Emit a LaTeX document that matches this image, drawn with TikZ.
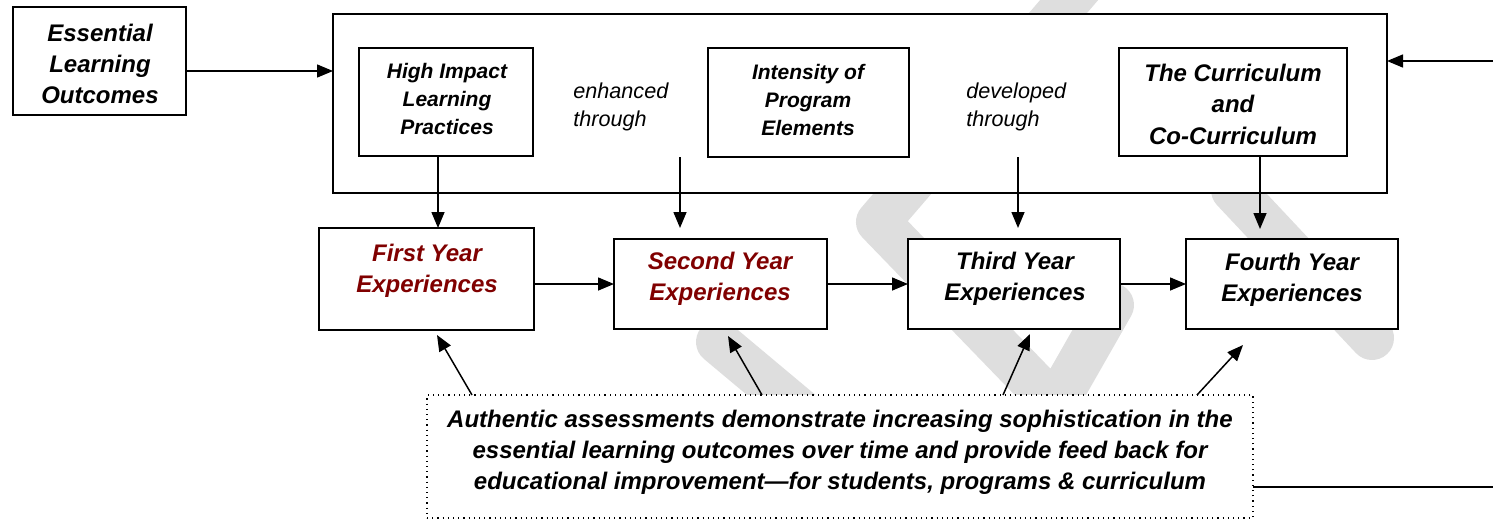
\documentclass[tikz,border=0pt]{standalone}
\usepackage{fontspec}
\setmainfont{Liberation Sans}
\usetikzlibrary{arrows.meta,calc}
\definecolor{darkred}{RGB}{128,0,0}
\definecolor{wmgray}{RGB}{222,222,222}
\begin{document}
\begin{tikzpicture}[x=0.5pt,y=-0.5pt,
  wm/.style={draw=wmgray, line width=22pt, line cap=round, line join=round},
  box/.style={draw, line width=1pt, fill=white, inner sep=0pt, outer sep=0pt},
  dotbox/.style={draw, line width=0.6pt, dotted, fill=white, inner sep=0pt, outer sep=0pt},
  lbl/.style={align=center, inner sep=0pt, font=\fontsize{12pt}{15.5pt}\selectfont\bfseries\itshape},
  smlbl/.style={align=center, inner sep=0pt, font=\fontsize{10.5pt}{14pt}\selectfont\bfseries\itshape},
  note/.style={align=left, inner sep=0pt, anchor=west, font=\fontsize{10.8pt}{14pt}\selectfont\itshape},
  arr/.style={-{Triangle[length=8pt,width=6.5pt]}, line width=0.75pt},
  plain/.style={line width=0.75pt}]
\useasboundingbox (0,0) rectangle (1493,520);
% watermark
\draw[wm] (1095,-30) -- (878,222) -- (1055,405) -- (1112,305);
\draw[wm] (1233,190) -- (1372,338);
\draw[wm] (718,342) -- (835,440);
% boxes
\node[box, minimum width=86.5pt, minimum height=54pt] (elo) at (99.5,61) {};
\node[box, minimum width=527pt, minimum height=89.5pt] (big) at (860,103.5) {};
\node[box, minimum width=87pt, minimum height=54pt] (hilp) at (446,102) {};
\node[box, minimum width=100.5pt, minimum height=54.5pt] (inten) at (808.5,102.5) {};
\node[box, minimum width=114pt, minimum height=54pt] (curr) at (1233,102) {};
\node[box, minimum width=107.5pt, minimum height=51pt] (first) at (426.5,279) {};
\node[box, minimum width=106.5pt, minimum height=45pt] (second) at (720.5,284) {};
\node[box, minimum width=106pt, minimum height=45pt] (third) at (1014,284) {};
\node[box, minimum width=106pt, minimum height=45pt] (fourth) at (1292,284) {};
\node[dotbox, minimum width=413pt, minimum height=61.5pt] (assess) at (840,456.5) {};
% texts
\node[lbl] (eloT) at (100,64) {Essential\\Learning\\Outcomes};
\node[smlbl] (hilpT) at (447,99) {High Impact\\Learning\\Practices};
\node[note] (enhT) at (573,107) {enhanced\\through};
\node[smlbl] (intenT) at (808,100) {Intensity of\\Program\\Elements};
\node[note] (devT) at (966,107) {developed\\through};
\node[lbl, font=\fontsize{12pt}{15.75pt}\selectfont\bfseries\itshape] (currT) at (1233,104) {The Curriculum\\and\\Co-Curriculum};
\node[lbl, text=darkred] (firstT) at (427,270.5) {First Year\\Experiences};
\node[lbl, text=darkred] (secondT) at (720,279) {Second Year\\Experiences};
\node[lbl] (thirdT) at (1015,279) {Third Year\\Experiences};
\node[lbl] (fourthT) at (1292,280) {Fourth Year\\Experiences};
\node[lbl] (assessT) at (840,452) {Authentic assessments demonstrate increasing sophistication in the\\essential learning outcomes over time and provide feed back for\\educational improvement---for students, programs \& curriculum};
% free ends
\coordinate (enh) at (680,157);
\coordinate (dev) at (1018,157);
\coordinate (rtop) at (1493,61);
\coordinate (rbot) at (1493,487);
\coordinate (t1) at (437,335);
\coordinate (t2) at (728,336);
\coordinate (t3) at (1030,334);
\coordinate (t4) at (1243,345);
\coordinate (s1) at (472,395);
\coordinate (s2) at (762,395);
\coordinate (s3) at (1003,395);
\coordinate (s4) at (1197,395);
% connectors
\draw[arr] ([yshift=-5pt]elo.east) -- ([yshift=-5pt]elo.east -| big.west);
\draw[arr] (rtop) -- (rtop -| big.east);
\draw[arr] ([xshift=-4pt]hilp.south) -- ([xshift=-4pt]hilp.south |- first.north);
\draw[arr] (enh) -- ([yshift=5.5pt]enh |- second.north);
\draw[arr] (dev) -- ([yshift=5.5pt]dev |- third.north);
\draw[arr] ([xshift=13.5pt]curr.south) -- ([xshift=13.5pt,yshift=5pt]curr.south |- fourth.north);
\draw[arr] (first.east |- second.west) -- (second.west);
\draw[arr] (second.east) -- (third.west);
\draw[arr] (third.east) -- (fourth.west);
\draw[arr] (s1 |- assess.north) -- (t1);
\draw[arr] (s2 |- assess.north) -- (t2);
\draw[arr] (s3 |- assess.north) -- (t3);
\draw[arr] (s4 |- assess.north) -- (t4);
\draw[plain] (assess.east |- rbot) -- (rbot);
\end{tikzpicture}
\end{document}
